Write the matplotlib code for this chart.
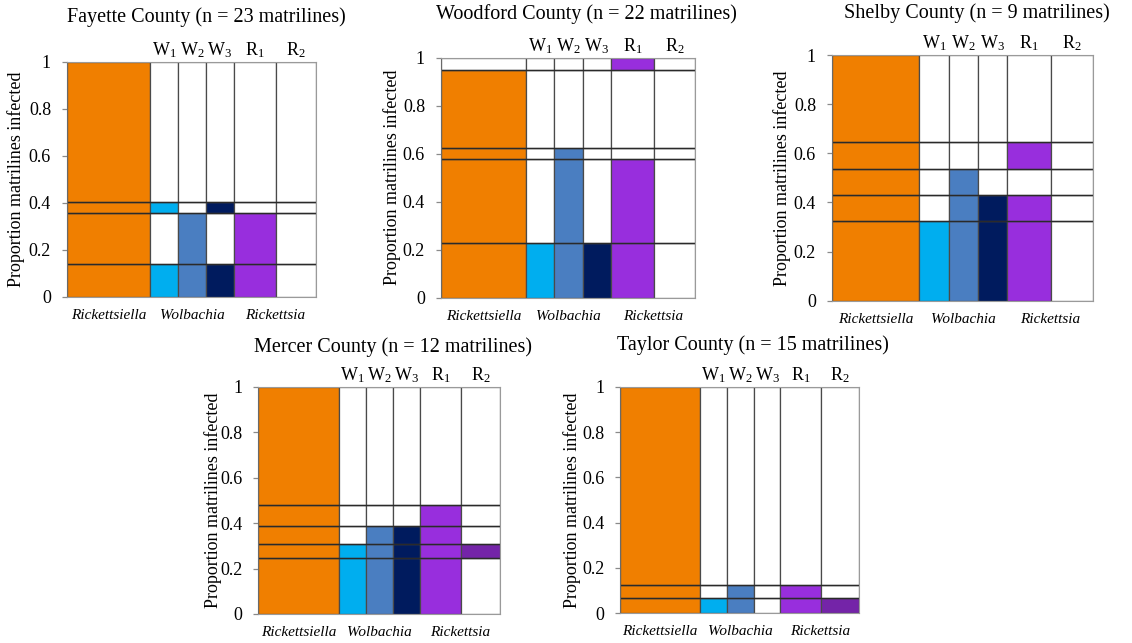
import numpy as np
import matplotlib
matplotlib.use("Agg")
import matplotlib.pyplot as plt

plt.rcParams["font.family"] = ["Liberation Serif", "DejaVu Serif"]
plt.rcParams["mathtext.fontset"] = "custom"
plt.rcParams["mathtext.rm"] = "Liberation Serif"
plt.rcParams["mathtext.it"] = "Liberation Serif:italic"

# columns shared by every panel
COLUMNS = ["Rickettsiella", "W1", "W2", "W3", "R1", "R2"]
COL_LABELS = [None, "W$_1$", "W$_2$", "W$_3$", "R$_1$", "R$_2$"]
COL_WIDTHS = [3.0, 1.0, 1.0, 1.0, 1.5, 1.45]
COLORS = ["#F07F00", "#00AEEF", "#4A7EC1", "#001B5E", "#982EDD", "#7424A8"]
GENUS = [("Rickettsiella", [0]), ("Wolbachia", [1, 2, 3]), ("Rickettsia", [4, 5])]

# row boundaries (proportion of matrilines) and which rows each column fills
fayette_levels = [0.14, 0.355, 0.405]
fayette_fill = [[1, 1, 1, 1], [1, 0, 1, 0], [1, 1, 0, 0], [1, 0, 1, 0], [1, 1, 0, 0], [0, 0, 0, 0]]

woodford_levels = [0.228, 0.578, 0.6225, 0.95]
woodford_fill = [[1, 1, 1, 1, 0], [1, 0, 0, 0, 0], [1, 1, 1, 0, 0], [1, 0, 0, 0, 0], [1, 1, 0, 0, 1], [0, 0, 0, 0, 0]]

shelby_levels = [0.324, 0.43, 0.535, 0.647]
shelby_fill = [[1, 1, 1, 1, 1], [1, 0, 0, 0, 0], [1, 1, 1, 0, 0], [1, 1, 0, 0, 0], [1, 1, 0, 1, 0], [0, 0, 0, 0, 0]]

mercer_levels = [0.245, 0.307, 0.388, 0.48]
mercer_fill = [[1, 1, 1, 1, 1], [1, 1, 0, 0, 0], [1, 1, 1, 0, 0], [1, 1, 1, 0, 0], [1, 1, 1, 1, 0], [0, 1, 0, 0, 0]]

taylor_levels = [0.069, 0.125]
taylor_fill = [[1, 1, 1], [1, 0, 0], [1, 1, 0], [0, 0, 0], [1, 1, 0], [1, 0, 0]]

panels = [
    ("Fayette County (n = 23 matrilines)", fayette_levels, fayette_fill, (66.7, 61.7, 316, 296.7), (206, 17), 52),
    ("Woodford County (n = 22 matrilines)", woodford_levels, woodford_fill, (440.7, 57.7, 695, 297.7), (586, 14), 50),
    ("Shelby County (n = 9 matrilines)", shelby_levels, shelby_fill, (831.7, 55, 1093.3, 300.7), (977, 13), 51),
    ("Mercer County (n = 12 matrilines)", mercer_levels, mercer_fill, (258.3, 386.7, 500, 614), (393, 347), 46),
    ("Taylor County (n = 15 matrilines)", taylor_levels, taylor_fill, (620, 386.7, 859.3, 613.3), (753, 345), 49),
]

W, H = 1132, 643
fig = plt.figure(figsize=(W / 100, H / 100), dpi=100)

widths = np.array(COL_WIDTHS)
lefts = np.concatenate([[0], np.cumsum(widths)[:-1]])
total = widths.sum()

for title, levels, fill, (x0, y0, x1, y1), (tx, ty), ylab_off in panels:
    ax = fig.add_axes([x0 / W, 1 - y1 / H, (x1 - x0) / W, (y1 - y0) / H])
    hpx = y1 - y0
    edges = [0.0] + levels + [1.0]
    for ci in range(len(COLUMNS)):
        for ri in range(len(edges) - 1):
            lo, hi = edges[ri], edges[ri + 1]
            face = COLORS[ci] if fill[ci][ri] else "white"
            ax.bar(lefts[ci], hi - lo, width=widths[ci], bottom=lo, align="edge",
                   color=face, edgecolor="#4a4a4a", linewidth=0.9)
    ax.hlines(levels, 0, total, color="#2a2a2a", linewidth=1.0)
    ax.set_xlim(0, total)
    ax.set_ylim(0, 1)
    ax.set_xticks([])
    ax.set_yticks([0, 0.2, 0.4, 0.6, 0.8, 1.0])
    ax.set_yticklabels(["0", "0.2", "0.4", "0.6", "0.8", "1"])
    ax.tick_params(axis="y", length=3.3, width=0.9, color="#8a8a8a", pad=8, labelsize=13)
    for side in ["top", "right", "bottom"]:
        ax.spines[side].set_color("#9a9a9a")
    ax.spines["left"].set_color("#6a6a6a")
    ax.set_ylabel("Proportion matrilines infected", fontsize=13)
    ax.yaxis.set_label_coords(-(ylab_off - 10) / (x1 - x0), 0.5)

    # column labels above
    for ci, lab in enumerate(COL_LABELS):
        if lab:
            ax.text(lefts[ci] + widths[ci] / 2, 1 + 6.5 / hpx, lab, ha="center", va="baseline",
                    fontsize=13, transform=ax.get_xaxis_transform())
    # genus labels below
    for name, idx in GENUS:
        cx = (lefts[idx[0]] + lefts[idx[-1]] + widths[idx[-1]]) / 2
        ax.text(cx, -18.5 / hpx, name, ha="center", va="center", fontsize=11, style="italic",
                transform=ax.get_xaxis_transform())

    fig.text(tx / W, 1 - ty / H, title, ha="center", va="center", fontsize=14.5)

fig.savefig("out.png", dpi=100)
